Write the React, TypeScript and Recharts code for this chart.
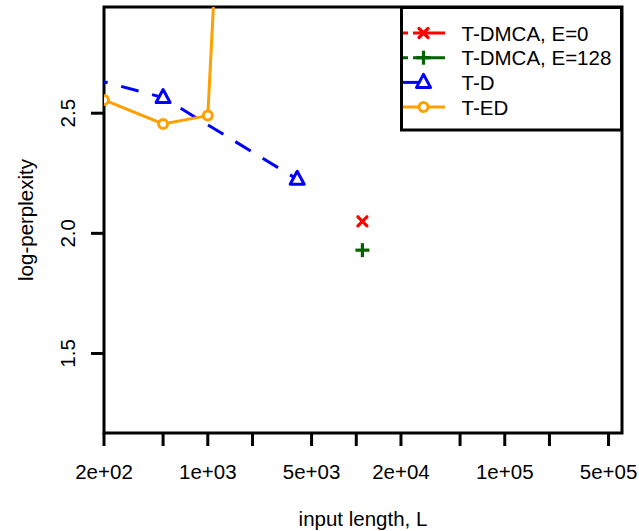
import { ComposedChart, Line, Scatter, XAxis, YAxis, ReferenceArea } from 'recharts';

// T-D (dashed blue, open triangles)
const tdLength = [100, 500, 4000];
const tdValue = [2.68, 2.565, 2.225];

// T-ED (orange, open circles) - last point runs off the top
const tedLength = [200, 500, 1000, 2000];
const tedValue = [2.555, 2.455, 2.49, 6.1];

// T-DMCA single runs
const dmcaLength = [11000];
const dmcaE0Value = [2.05];
const dmcaE128Value = [1.93];

const xTicks = [200, 500, 1000, 2000, 5000, 10000, 20000, 50000, 100000, 200000, 500000];
const xLabelled = [200, 1000, 5000, 20000, 100000, 500000];
const yTicks = [1.5, 2.0, 2.5];

const X_DOMAIN: [number, number] = [200, 616000];
const Y_DOMAIN: [number, number] = [1.169, 2.942];

const FONT = '"Liberation Sans", Arial, Helvetica, sans-serif';
const FS = 20.5;
const BLUE = '#0000FF';
const ORANGE = '#FF9F00';
const RED = '#FF0000';
const GREEN = '#006400';

const toRows = (xs: number[], ys: number[]) => xs.map((L, i) => ({ L, v: ys[i] }));

const tdData = toRows(tdLength, tdValue);
const tedData = toRows(tedLength, tedValue);
const dmca0Data = toRows(dmcaLength, dmcaE0Value);
const dmca128Data = toRows(dmcaLength, dmcaE128Value);

// R-style exponent label, e.g. 2e+02
const fmtExp = (n: number) => {
  const [m, e] = n.toExponential(0).split('e');
  const sign = e[0];
  const digits = e.slice(1).padStart(2, '0');
  return `${m}e${sign}${digits}`;
};

const inView = (p: any) =>
  p.payload && p.payload.L >= X_DOMAIN[0] && p.payload.L <= X_DOMAIN[1] && p.payload.v <= Y_DOMAIN[1];

const Triangle = ({ cx, cy }: { cx: number; cy: number }) => (
  <polygon
    points={`${cx},${cy - 8} ${cx - 7},${cy + 5} ${cx + 7},${cy + 5}`}
    fill="#fff"
    stroke={BLUE}
    strokeWidth={3}
    strokeLinejoin="round"
  />
);

const Ring = ({ cx, cy }: { cx: number; cy: number }) => (
  <circle cx={cx} cy={cy} r={4.5} fill="#fff" stroke={ORANGE} strokeWidth={3} />
);

const Cross = ({ cx, cy }: { cx: number; cy: number }) => (
  <g stroke={RED} strokeWidth={3.2} strokeLinecap="round">
    <line x1={cx - 4.5} y1={cy - 4.5} x2={cx + 4.5} y2={cy + 4.5} />
    <line x1={cx - 4.5} y1={cy + 4.5} x2={cx + 4.5} y2={cy - 4.5} />
  </g>
);

const Plus = ({ cx, cy }: { cx: number; cy: number }) => (
  <g stroke={GREEN} strokeWidth={3.2}>
    <line x1={cx - 7} y1={cy} x2={cx + 7} y2={cy} />
    <line x1={cx} y1={cy - 7} x2={cx} y2={cy + 7} />
  </g>
);

const XTick = ({ x, y, payload }: any) => {
  if (!xLabelled.includes(payload.value)) return <g />;
  return (
    <text x={x} y={y + 31} textAnchor="middle" fontSize={FS} fontFamily={FONT} fill="#000">
      {fmtExp(payload.value)}
    </text>
  );
};

const YTick = ({ y, payload }: any) => (
  <text
    x={75}
    y={y}
    transform={`rotate(-90, 75, ${y})`}
    textAnchor="middle"
    fontSize={FS}
    fontFamily={FONT}
    fill="#000"
  >
    {payload.value.toFixed(1)}
  </text>
);

const legendItems = [
  { label: 'T-DMCA, E=0', color: RED, dash: '5 5 40', mark: Cross },
  { label: 'T-DMCA, E=128', color: GREEN, dash: '5 5 40', mark: Plus },
  { label: 'T-D', color: BLUE, dash: '20 40', mark: Triangle },
  { label: 'T-ED', color: ORANGE, dash: undefined, mark: Ring },
];

const LegendBox = () => (
  <svg
    width={639}
    height={531}
    style={{ position: 'absolute', left: 0, top: 0, pointerEvents: 'none' }}
  >
    <rect x={401.5} y={7.5} width={220} height={122.5} fill="#fff" stroke="#000" strokeWidth={3} />
    {legendItems.map((item, i) => {
      const y = 33 + i * 24.7;
      const Mark = item.mark;
      return (
        <g key={item.label}>
          <line x1={403} y1={y} x2={445} y2={y} stroke={item.color} strokeWidth={3} strokeDasharray={item.dash} />
          <Mark cx={423.5} cy={y} />
          <text x={461.5} y={y} dominantBaseline="central" fontSize={FS} fontFamily={FONT} fill="#000">
            {item.label}
          </text>
        </g>
      );
    })}
  </svg>
);

const App = () => {
  return (
    <div style={{ position: 'relative', width: 639, height: 531, background: '#fff' }}>
      <style>{'body { margin: 0; }'}</style>
      <ComposedChart width={639} height={531} margin={{ top: 7, right: 17, bottom: 0, left: 0 }}>
        <XAxis
          dataKey="L"
          type="number"
          scale="log"
          domain={X_DOMAIN}
          allowDataOverflow
          ticks={xTicks}
          interval={0}
          tick={<XTick />}
          tickSize={13}
          tickMargin={2}
          axisLine={false}
          tickLine={{ stroke: '#000', strokeWidth: 3 }}
          height={98}
          label={{
            content: ({ viewBox }: any) => (
              <text
                x={viewBox.x + viewBox.width / 2}
                y={526}
                textAnchor="middle"
                fontSize={FS}
                fontFamily={FONT}
                fill="#000"
              >
                input length, L
              </text>
            ),
          }}
        />
        <YAxis
          type="number"
          domain={Y_DOMAIN}
          allowDataOverflow
          ticks={yTicks}
          interval={0}
          tick={<YTick />}
          tickSize={13}
          tickMargin={2}
          axisLine={false}
          tickLine={{ stroke: '#000', strokeWidth: 3 }}
          width={104}
          label={{
            content: ({ viewBox }: any) => {
              const cy = viewBox.y + viewBox.height / 2;
              return (
                <text
                  x={33}
                  y={cy}
                  transform={`rotate(-90, 33, ${cy})`}
                  textAnchor="middle"
                  fontSize={FS}
                  fontFamily={FONT}
                  fill="#000"
                >
                  log-perplexity
                </text>
              );
            },
          }}
        />
        <Line
          data={tdData}
          dataKey="v"
          stroke={BLUE}
          strokeWidth={3}
          strokeDasharray="18 14"
          isAnimationActive={false}
          dot={(p: any) => (inView(p) ? <Triangle key={p.index} cx={p.cx} cy={p.cy} /> : <g key={p.index} />)}
          activeDot={false}
        />
        <Line
          data={tedData}
          dataKey="v"
          stroke={ORANGE}
          strokeWidth={3}
          isAnimationActive={false}
          dot={(p: any) => (inView(p) ? <Ring key={p.index} cx={p.cx} cy={p.cy} /> : <g key={p.index} />)}
          activeDot={false}
        />
        <Scatter
          data={dmca0Data}
          dataKey="v"
          isAnimationActive={false}
          shape={(p: any) => <Cross cx={p.cx} cy={p.cy} />}
        />
        <Scatter
          data={dmca128Data}
          dataKey="v"
          isAnimationActive={false}
          shape={(p: any) => <Plus cx={p.cx} cy={p.cy} />}
        />
        <ReferenceArea
          x1={X_DOMAIN[0]}
          x2={X_DOMAIN[1]}
          y1={Y_DOMAIN[0]}
          y2={Y_DOMAIN[1]}
          fill="none"
          fillOpacity={0}
          stroke="#000"
          strokeWidth={3}
          ifOverflow="visible"
        />
      </ComposedChart>
      <LegendBox />
    </div>
  );
};

export default App;
